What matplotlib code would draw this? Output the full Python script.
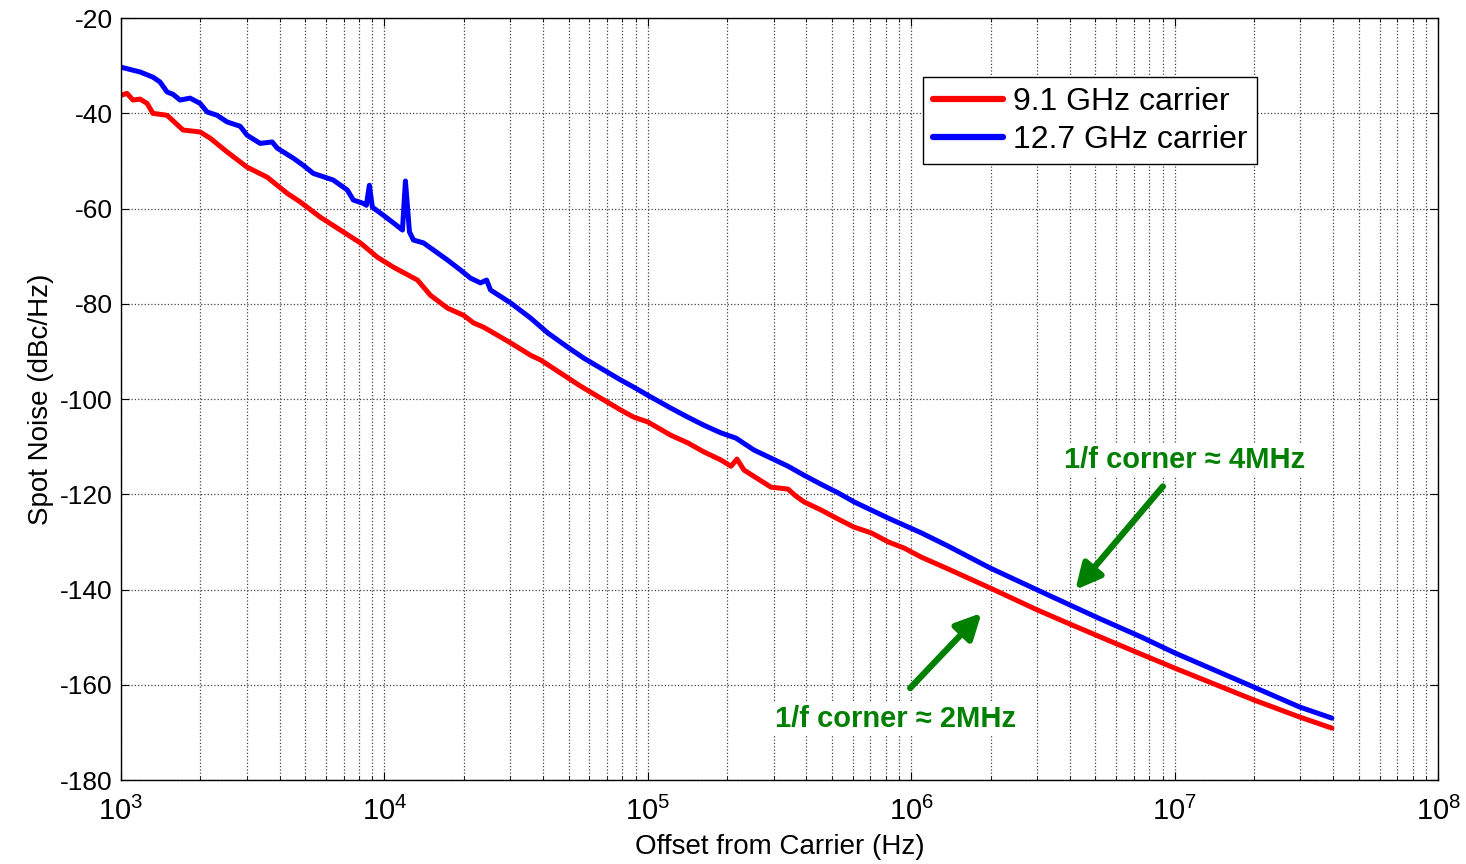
import matplotlib
matplotlib.use('Agg')
import matplotlib.pyplot as plt
from matplotlib.ticker import LogLocator, NullFormatter

plt.rcParams['font.family'] = ['Liberation Sans', 'DejaVu Sans']
plt.rcParams['mathtext.fontset'] = 'custom'
plt.rcParams['mathtext.rm'] = 'Liberation Sans'
plt.rcParams['axes.unicode_minus'] = False

# spot noise: offset (Hz) and level (dBc/Hz)
red_freq = [1000, 1054, 1111, 1181, 1256, 1323, 1496, 1721, 1997, 2180, 2529, 3013,
            3591, 4278, 4793, 5711, 6805, 8104, 9405, 10820, 13350, 14960, 17360,
            19970, 21800, 23790, 26900, 30140, 35910, 39200, 55590, 78930, 88460,
            1.0e5, 1.223e5, 1.419e5, 1.633e5, 1.895e5, 2.069e5, 2.18e5, 2.317e5,
            2.935e5, 3.406e5, 3.653e5, 3.919e5, 4.548e5, 5.278e5, 6.072e5, 7.047e5,
            8.177e5, 9.405e5, 1.092e6, 1.383e6, 1.997e6, 3.014e6, 4.022e6, 5.14e6,
            7.047e6, 1.0e7, 2.0e7, 2.99e7, 3.95e7]
red_db = [-36.2, -35.8, -37.2, -37.0, -37.9, -40.0, -40.4, -43.5, -43.9, -45.2, -48.1,
          -51.3, -53.4, -56.8, -58.6, -61.8, -64.5, -67.2, -70.2, -72.3, -75.0, -78.2,
          -80.9, -82.4, -84.0, -84.9, -86.6, -88.2, -90.8, -91.8, -97.3, -102.3, -103.8,
          -104.8, -107.6, -109.2, -111.1, -112.8, -114.1, -112.6, -114.9, -118.5, -118.9,
          -120.4, -121.6, -123.3, -125.2, -126.9, -128.1, -130.0, -131.3, -133.2, -135.7,
          -139.7, -144.3, -147.3, -149.8, -153.0, -156.5, -163.2, -166.8, -169.1]

blue_freq = [1000, 1181, 1323, 1407, 1496, 1577, 1676, 1830, 1997, 2123, 2317, 2529,
             2835, 3013, 3377, 3751, 3920, 4508, 4920, 5370, 6397, 7234, 7623, 8321,
             8542, 8770, 9003, 9913, 10820, 11710, 12020, 12450, 12890, 14070, 15360,
             17360, 19450, 21230, 23170, 24430, 25290, 30140, 35910, 41680, 49640,
             57110, 78930, 88460, 1.0e5, 1.223e5, 1.419e5, 1.633e5, 1.895e5, 2.161e5,
             2.529e5, 2.935e5, 3.406e5, 3.919e5, 4.548e5, 5.278e5, 6.072e5, 7.047e5,
             8.177e5, 9.405e5, 1.092e6, 1.383e6, 1.997e6, 3.014e6, 4.022e6, 5.14e6,
             7.49e6, 1.0e7, 2.0e7, 2.99e7, 3.95e7]
blue_db = [-30.3, -31.3, -32.4, -33.4, -35.5, -36.0, -37.2, -36.8, -37.9, -39.7, -40.4,
           -41.8, -42.7, -44.6, -46.3, -46.0, -47.3, -49.4, -50.9, -52.6, -54.0, -56.1,
           -58.2, -58.9, -59.3, -55.1, -59.7, -61.4, -63.0, -64.5, -54.2, -64.9, -66.6,
           -67.2, -68.7, -70.8, -72.9, -74.6, -75.6, -75.0, -77.1, -79.8, -83.0, -86.1,
           -89.1, -91.4, -96.0, -97.5, -99.2, -101.9, -103.8, -105.5, -107.1, -108.2,
           -110.7, -112.4, -114.1, -116.0, -117.9, -119.7, -121.6, -123.3, -125.0, -126.5,
           -128.1, -130.9, -135.5, -140.1, -143.3, -146.0, -150.0, -153.3, -160.5,
           -164.7, -167.0]

series_labels = ['9.1 GHz carrier', '12.7 GHz carrier']
notes = ['1/f corner \u2248 4MHz', '1/f corner \u2248 2MHz']

fig = plt.figure(figsize=(14.66, 8.64), dpi=100)
ax = fig.add_axes([0.0825, 0.0972, 0.8985, 0.8818])

ax.semilogx(red_freq, red_db, color='#ff0000', lw=3.6, label=series_labels[0],
            solid_joinstyle='round', solid_capstyle='round')
ax.semilogx(blue_freq, blue_db, color='#0000ff', lw=3.6, label=series_labels[1],
            solid_joinstyle='round', solid_capstyle='round')

ax.set_xlim(1e3, 1e8)
ax.set_ylim(-180, -20)
ax.set_yticks(range(-180, -19, 20))
ax.xaxis.set_major_locator(LogLocator(base=10, numticks=10))
ax.xaxis.set_minor_locator(LogLocator(base=10, subs=range(2, 10), numticks=20))
ax.xaxis.set_minor_formatter(NullFormatter())

ax.grid(True, which='major', axis='both', linestyle=':', color='#444444', lw=0.9)
ax.grid(True, which='minor', axis='x', linestyle=':', color='#444444', lw=0.9)

ax.tick_params(which='both', direction='in', top=True, right=True)
ax.tick_params(axis='y', labelsize=19, pad=6)
ax.tick_params(axis='x', labelsize=21, pad=12)
ax.tick_params(which='major', length=6)
ax.tick_params(which='minor', length=3)
for s in ax.spines.values():
    s.set_linewidth(1.0)

ax.set_xlabel('Offset from Carrier (Hz)', fontsize=20, labelpad=6)
ax.set_ylabel('Spot Noise (dBc/Hz)', fontsize=20, labelpad=4)

leg = ax.legend(loc='upper left', bbox_to_anchor=(0.609, 0.9226), fontsize=23,
                fancybox=False, framealpha=1, edgecolor='black', handlelength=2.2,
                handletextpad=0.3, borderpad=0.3, labelspacing=0.25,
                borderaxespad=0)
leg.get_frame().set_linewidth(1.0)
for line in leg.get_lines():
    line.set_linewidth(4.5)

green = '#008000'
ax.annotate('', xy=(4.13e6, -140.5), xytext=(9.16e6, -117.9),
            arrowprops=dict(arrowstyle='-|>', color=green, lw=4.5, mutation_scale=38))
ax.annotate('', xy=(1.88e6, -144.5), xytext=(9.74e5, -161.1),
            arrowprops=dict(arrowstyle='-|>', color=green, lw=4.5, mutation_scale=38))
ax.text(1.09e7, -112.8, notes[0], color=green, fontsize=21, fontweight='bold',
        ha='center', va='center',
        bbox=dict(facecolor='white', edgecolor='none', pad=2))
ax.text(8.69e5, -167.2, notes[1], color=green, fontsize=21, fontweight='bold',
        ha='center', va='center',
        bbox=dict(facecolor='white', edgecolor='none', pad=2))

fig.savefig('out.png', dpi=100)
